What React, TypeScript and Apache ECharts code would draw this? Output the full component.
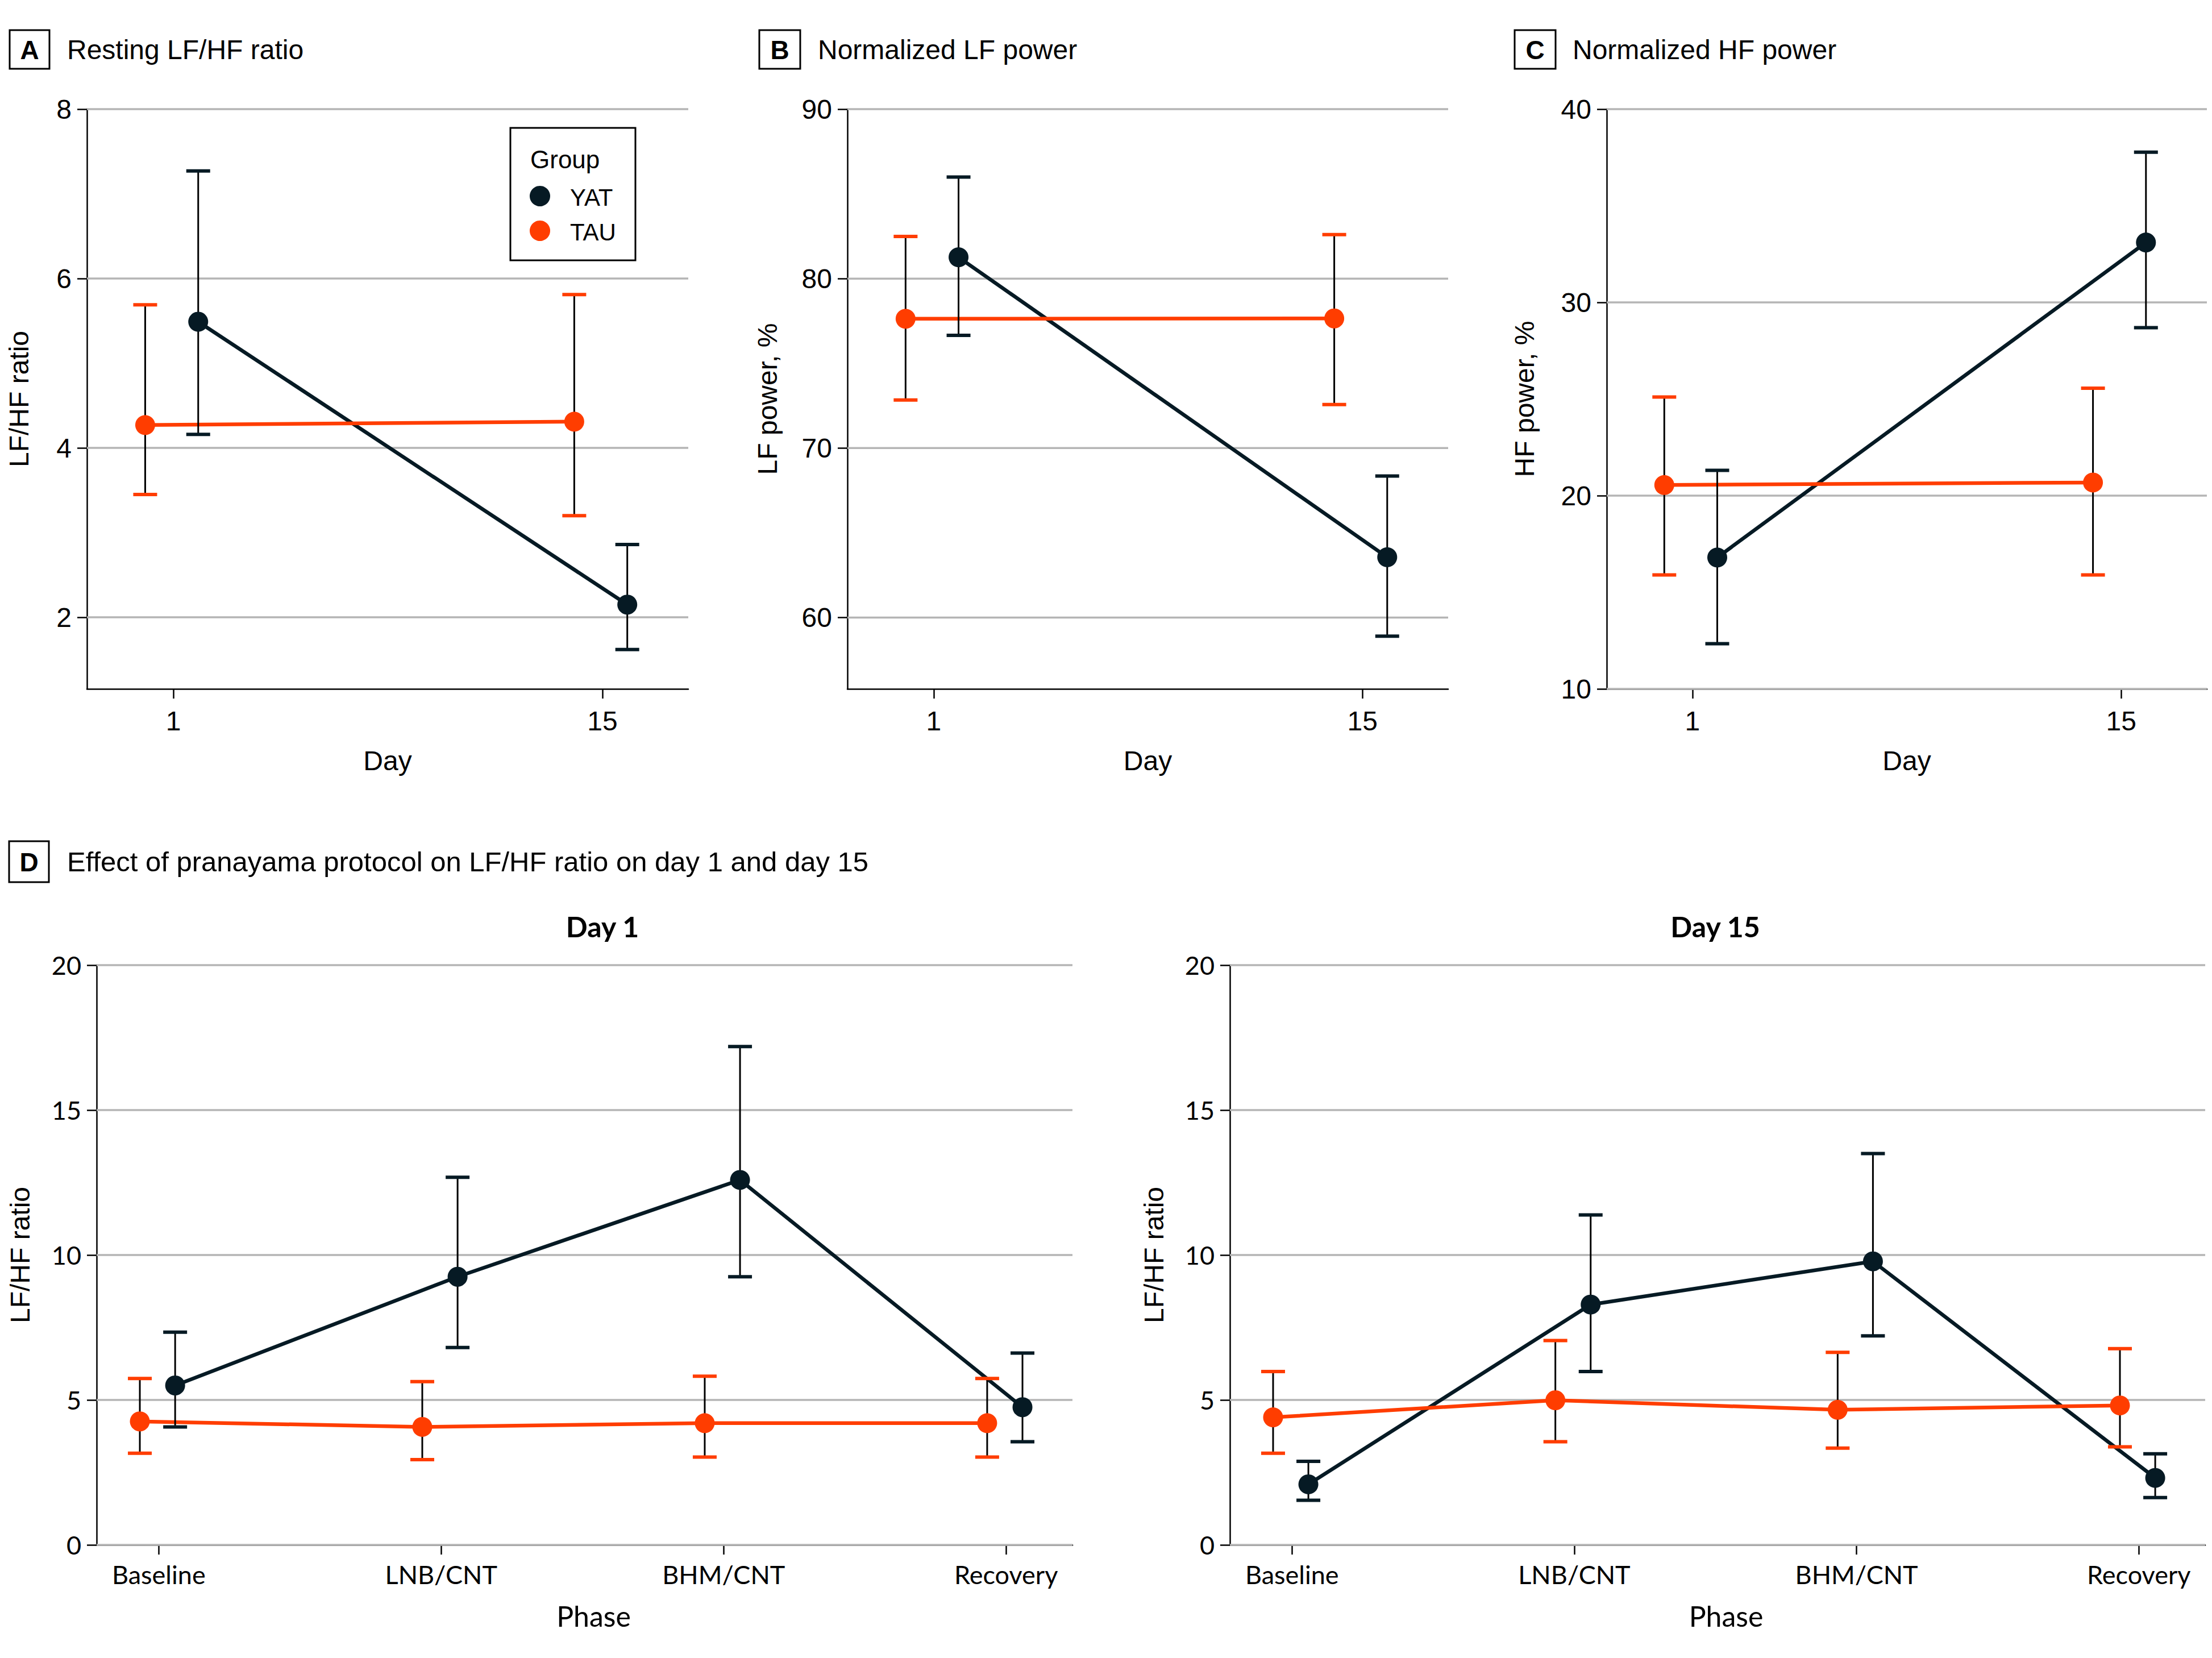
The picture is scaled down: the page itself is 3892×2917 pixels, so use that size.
import React, { useEffect, useRef } from "react";
import * as echarts from "echarts";

// ---------- data ----------
const days = [1, 15];
const dayTicks = [1, 15];

const restingTicks = [2, 4, 6, 8];
const restingYAT = [5.49, 2.15];
const restingYATLow = [4.16, 1.62];
const restingYATHigh = [7.27, 2.86];
const restingTAU = [4.27, 4.31];
const restingTAULow = [3.45, 3.2];
const restingTAUHigh = [5.69, 5.81];

const lfTicks = [60, 70, 80, 90];
const lfYAT = [81.26, 63.56];
const lfYATLow = [76.65, 58.9];
const lfYATHigh = [85.99, 68.35];
const lfTAU = [77.63, 77.65];
const lfTAULow = [72.84, 72.57];
const lfTAUHigh = [82.49, 82.6];

const hfTicks = [10, 20, 30, 40];
const hfYAT = [16.8, 33.1];
const hfYATLow = [12.34, 28.69];
const hfYATHigh = [21.31, 37.77];
const hfTAU = [20.55, 20.68];
const hfTAULow = [15.9, 15.9];
const hfTAUHigh = [25.1, 25.56];

const phases = ["Baseline", "LNB/CNT", "BHM/CNT", "Recovery"];
const phaseIdx = [0, 1, 2, 3];
const ratioTicks = [0, 5, 10, 15, 20];

const day1YAT = [5.5, 9.25, 12.59, 4.75];
const day1YATLow = [4.07, 6.81, 9.25, 3.56];
const day1YATHigh = [7.34, 12.68, 17.19, 6.62];
const day1TAU = [4.26, 4.07, 4.2, 4.2];
const day1TAULow = [3.16, 2.94, 3.03, 3.03];
const day1TAUHigh = [5.74, 5.63, 5.82, 5.74];

const day15YAT = [2.09, 8.29, 9.78, 2.31];
const day15YATLow = [1.54, 5.98, 7.21, 1.63];
const day15YATHigh = [2.88, 11.38, 13.5, 3.14];
const day15TAU = [4.4, 4.99, 4.66, 4.81];
const day15TAULow = [3.16, 3.56, 3.34, 3.38];
const day15TAUHigh = [5.98, 7.05, 6.64, 6.77];

// ---------- styles ----------
const YAT_COLOR = "#061a24";
const TAU_COLOR = "#ff3d00";
const GRID_COLOR = "#b5b5b5";
const FONT = "'Liberation Sans', Arial, sans-serif";
const NARROW = "Lato, 'Liberation Sans', sans-serif";

type Panel = {
  grid: { left: number; top: number; width: number; height: number };
  xMin: number;
  xMax: number;
  xTicks: number[];
  xFormatter?: (v: number) => string;
  yMin: number;
  yMax: number;
  yTicks: number[];
  xs: number[];
  dodgeTAU: number;
  dodgeYAT: number;
  yat: number[];
  yatLo: number[];
  yatHi: number[];
  tau: number[];
  tauLo: number[];
  tauHi: number[];
  xName: string;
  yName: string;
  xNameGap: number;
  yNameGap: number;
  labelFont: string;
  labelSize: number;
  nameSize: number;
  xLabelMargin: number;
  xNamePad: number;
};

const panels: Panel[] = [
  {
    grid: { left: 153, top: 192, width: 1058, height: 1020 },
    xMin: -1.82, xMax: 17.8, xTicks: dayTicks,
    yMin: 1.155, yMax: 8, yTicks: restingTicks,
    xs: days, dodgeTAU: -0.92, dodgeYAT: 0.81,
    yat: restingYAT, yatLo: restingYATLow, yatHi: restingYATHigh,
    tau: restingTAU, tauLo: restingTAULow, tauHi: restingTAUHigh,
    xName: "Day", yName: "LF/HF ratio", xNameGap: 102, yNameGap: 96,
    labelFont: FONT, labelSize: 48, nameSize: 48, xLabelMargin: 32, xNamePad: 0,
  },
  {
    grid: { left: 1491, top: 192, width: 1057, height: 1020 },
    xMin: -1.82, xMax: 17.8, xTicks: dayTicks,
    yMin: 55.79, yMax: 90, yTicks: lfTicks,
    xs: days, dodgeTAU: -0.92, dodgeYAT: 0.81,
    yat: lfYAT, yatLo: lfYATLow, yatHi: lfYATHigh,
    tau: lfTAU, tauLo: lfTAULow, tauHi: lfTAUHigh,
    xName: "Day", yName: "LF power, %", xNameGap: 102, yNameGap: 117,
    labelFont: FONT, labelSize: 48, nameSize: 48, xLabelMargin: 32, xNamePad: 0,
  },
  {
    grid: { left: 2827, top: 192, width: 1056, height: 1020 },
    xMin: -1.8, xMax: 17.8, xTicks: dayTicks,
    yMin: 10, yMax: 40, yTicks: hfTicks,
    xs: days, dodgeTAU: -0.92, dodgeYAT: 0.81,
    yat: hfYAT, yatLo: hfYATLow, yatHi: hfYATHigh,
    tau: hfTAU, tauLo: hfTAULow, tauHi: hfTAUHigh,
    xName: "Day", yName: "HF power, %", xNameGap: 102, yNameGap: 121,
    labelFont: FONT, labelSize: 48, nameSize: 48, xLabelMargin: 32, xNamePad: 0,
  },
  {
    grid: { left: 170, top: 1698, width: 1717, height: 1020 },
    xMin: -0.22, xMax: 3.235, xTicks: phaseIdx,
    xFormatter: (v: number) => phases[Math.round(v)],
    yMin: 0, yMax: 20, yTicks: ratioTicks,
    xs: phaseIdx, dodgeTAU: -0.067, dodgeYAT: 0.058,
    yat: day1YAT, yatLo: day1YATLow, yatHi: day1YATHigh,
    tau: day1TAU, tauLo: day1TAULow, tauHi: day1TAUHigh,
    xName: "Phase", yName: "LF/HF ratio", xNameGap: 100, yNameGap: 111,
    labelFont: NARROW, labelSize: 45, nameSize: 50, xLabelMargin: 29, xNamePad: 32,
  },
  {
    grid: { left: 2164, top: 1698, width: 1716, height: 1020 },
    xMin: -0.22, xMax: 3.235, xTicks: phaseIdx,
    xFormatter: (v: number) => phases[Math.round(v)],
    yMin: 0, yMax: 20, yTicks: ratioTicks,
    xs: phaseIdx, dodgeTAU: -0.067, dodgeYAT: 0.058,
    yat: day15YAT, yatLo: day15YATLow, yatHi: day15YATHigh,
    tau: day15TAU, tauLo: day15TAULow, tauHi: day15TAUHigh,
    xName: "Phase", yName: "LF/HF ratio", xNameGap: 100, yNameGap: 110,
    labelFont: NARROW, labelSize: 45, nameSize: 50, xLabelMargin: 29, xNamePad: 30,
  },
];

const gridRender = (params: any, api: any) => {
  const cs = params.coordSys;
  const y = api.coord([api.value(0), api.value(1)])[1];
  return {
    type: "line",
    silent: true,
    shape: { x1: cs.x, y1: y, x2: cs.x + cs.width, y2: y },
    style: { stroke: GRID_COLOR, lineWidth: 3.5 },
  };
};

const errRender = (color: string) => (params: any, api: any) => {
  const x = api.value(0);
  const lo = api.coord([x, api.value(1)]);
  const hi = api.coord([x, api.value(2)]);
  const hw = 21;
  return {
    type: "group",
    children: [
      {
        type: "line",
        shape: { x1: lo[0], y1: lo[1], x2: hi[0], y2: hi[1] },
        style: { stroke: "#000", lineWidth: 3 },
      },
      {
        type: "line",
        shape: { x1: hi[0] - hw, y1: hi[1], x2: hi[0] + hw, y2: hi[1] },
        style: { stroke: color, lineWidth: 6, lineCap: "butt" },
      },
      {
        type: "line",
        shape: { x1: lo[0] - hw, y1: lo[1], x2: lo[0] + hw, y2: lo[1] },
        style: { stroke: color, lineWidth: 6, lineCap: "butt" },
      },
    ],
  };
};

function buildOption() {
  const grid: any[] = [];
  const xAxis: any[] = [];
  const yAxis: any[] = [];
  const series: any[] = [];

  panels.forEach((p, i) => {
    grid.push({ ...p.grid, containLabel: false });
    xAxis.push({
      gridIndex: i,
      type: "value",
      min: p.xMin,
      max: p.xMax,
      axisLine: { show: true, onZero: false, lineStyle: { color: "#000", width: 2.5 } },
      axisTick: { show: true, length: 17, customValues: p.xTicks, lineStyle: { color: "#000", width: 2.5 } },
      axisLabel: {
        customValues: p.xTicks,
        formatter: p.xFormatter ? p.xFormatter : (v: number) => String(v),
        margin: p.xLabelMargin,
        fontSize: p.labelSize,
        fontFamily: p.labelFont,
        color: "#000",
      },
      splitLine: { show: false },
      name: p.xName,
      nameLocation: "middle",
      nameGap: p.xNameGap,
      nameTextStyle: {
        fontSize: p.nameSize,
        fontFamily: p.labelFont,
        color: "#000",
        padding: [0, 0, 0, p.xNamePad],
      },
    });
    yAxis.push({
      gridIndex: i,
      type: "value",
      min: p.yMin,
      max: p.yMax,
      axisLine: { show: true, onZero: false, lineStyle: { color: "#000", width: 2.5 } },
      axisTick: { show: true, length: 17, customValues: p.yTicks, lineStyle: { color: "#000", width: 2.5 } },
      axisLabel: {
        customValues: p.yTicks,
        margin: 27,
        fontSize: p.labelSize,
        fontFamily: p.labelFont,
        color: "#000",
      },
      splitLine: { show: false },
      name: p.yName,
      nameLocation: "middle",
      nameGap: p.yNameGap,
      nameTextStyle: { fontSize: 48, fontFamily: FONT, color: "#000" },
    });

    series.push({
      type: "custom",
      name: "grid" + i,
      xAxisIndex: i,
      yAxisIndex: i,
      z: 1,
      silent: true,
      clip: false,
      renderItem: gridRender,
      encode: { x: 0, y: 1 },
      data: p.yTicks.map((v) => [p.xMin, v]),
    });

    const groups = [
      { name: "YAT", color: YAT_COLOR, d: p.dodgeYAT, v: p.yat, lo: p.yatLo, hi: p.yatHi },
      { name: "TAU", color: TAU_COLOR, d: p.dodgeTAU, v: p.tau, lo: p.tauLo, hi: p.tauHi },
    ];
    groups.forEach((g) => {
      series.push({
        type: "line",
        name: g.name,
        xAxisIndex: i,
        yAxisIndex: i,
        z: 2,
        color: g.color,
        showSymbol: false,
        symbol: "none",
        lineStyle: { color: g.color, width: 6.5 },
        data: p.xs.map((x, k) => [x + g.d, g.v[k]]),
      });
    });
    groups.forEach((g) => {
      series.push({
        type: "custom",
        name: g.name,
        xAxisIndex: i,
        yAxisIndex: i,
        z: 3,
        color: g.color,
        clip: false,
        renderItem: errRender(g.color),
        encode: { x: 0, y: [1, 2] },
        data: p.xs.map((x, k) => [x + g.d, g.lo[k], g.hi[k]]),
      });
    });
    groups.forEach((g) => {
      series.push({
        type: "scatter",
        name: g.name,
        xAxisIndex: i,
        yAxisIndex: i,
        z: 4,
        color: g.color,
        symbol: "circle",
        symbolSize: 35,
        itemStyle: { color: g.color, opacity: 1 },
        data: p.xs.map((x, k) => [x + g.d, g.v[k]]),
      });
    });
  });

  const boxText = (x: number, y: number, w: number, h: number, letter: string, title: string, tx: number, titleFont: string, titleSize: number) => [
    {
      type: "rect",
      shape: { x, y, width: w, height: h },
      style: { fill: "#fff", stroke: "#000", lineWidth: 3 },
    },
    {
      type: "text",
      x: x + w / 2,
      y: y + h / 2 + 1,
      style: {
        text: letter,
        fontSize: 46,
        fontWeight: "bold",
        fontFamily: FONT,
        fill: "#000",
        align: "center",
        verticalAlign: "middle",
      },
    },
    {
      type: "text",
      x: tx,
      y: y + h / 2,
      style: {
        text: title,
        fontSize: titleSize,
        fontFamily: titleFont,
        fill: "#000",
        align: "left",
        verticalAlign: "middle",
      },
    },
  ];

  const graphic: any[] = [
    ...boxText(17, 53, 70, 68, "A", "Resting LF/HF ratio", 118, FONT, 48),
    ...boxText(1336, 53, 72, 68, "B", "Normalized LF power", 1439, FONT, 48),
    ...boxText(2665, 53, 72, 68, "C", "Normalized HF power", 2767, FONT, 48),
    ...boxText(16, 1480, 70, 72, "D", "Effect of pranayama protocol on LF/HF ratio on day 1 and day 15", 118, FONT, 49),
    {
      type: "text",
      x: 1060,
      y: 1630,
      style: { text: "Day 1", fontSize: 50, fontWeight: "bold", fontFamily: NARROW, fill: "#000", align: "center", verticalAlign: "middle" },
    },
    {
      type: "text",
      x: 3018,
      y: 1630,
      style: { text: "Day 15", fontSize: 50, fontWeight: "bold", fontFamily: NARROW, fill: "#000", align: "center", verticalAlign: "middle" },
    },
    // legend
    {
      type: "rect",
      shape: { x: 898, y: 225, width: 220, height: 233 },
      style: { fill: "#fff", stroke: "#000", lineWidth: 3 },
      z: 10,
    },
    {
      type: "text",
      x: 933,
      y: 280,
      z: 11,
      style: { text: "Group", fontSize: 44, fontFamily: FONT, fill: "#000", align: "left", verticalAlign: "middle" },
    },
    {
      type: "circle",
      shape: { cx: 950, cy: 345, r: 18 },
      style: { fill: YAT_COLOR },
      z: 11,
    },
    {
      type: "text",
      x: 1003,
      y: 347,
      z: 11,
      style: { text: "YAT", fontSize: 42, fontFamily: FONT, fill: "#000", align: "left", verticalAlign: "middle" },
    },
    {
      type: "circle",
      shape: { cx: 950, cy: 406, r: 18 },
      style: { fill: TAU_COLOR },
      z: 11,
    },
    {
      type: "text",
      x: 1003,
      y: 408,
      z: 11,
      style: { text: "TAU", fontSize: 42, fontFamily: FONT, fill: "#000", align: "left", verticalAlign: "middle" },
    },
  ];

  return {
    animation: false,
    backgroundColor: "#ffffff",
    grid,
    xAxis,
    yAxis,
    series,
    graphic,
  };
}

export default function App() {
  const ref = useRef<HTMLDivElement>(null);
  useEffect(() => {
    if (!ref.current) return;
    const chart = echarts.init(ref.current, undefined, { renderer: "svg" });
    chart.setOption(buildOption() as any);
    return () => {
      chart.dispose();
    };
  }, []);
  return (
    <div
      ref={ref}
      style={{ position: "absolute", left: 0, top: 0, width: 3892, height: 2917, background: "#fff" }}
    />
  );
}
